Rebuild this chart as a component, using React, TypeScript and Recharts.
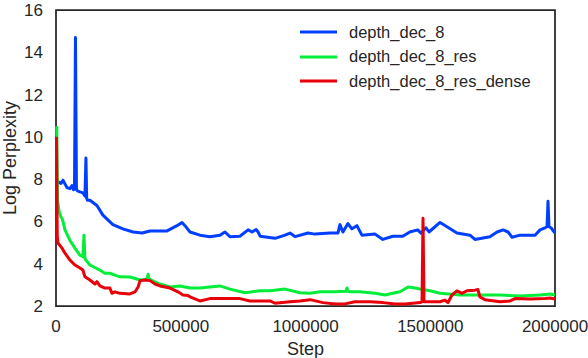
import React from "react";
import { LineChart, Line, XAxis, YAxis, ReferenceArea, Legend } from "recharts";

const seriesNames = ["depth_dec_8", "depth_dec_8_res", "depth_dec_8_res_dense"];
const seriesColors = ["#003FFF", "#03ED3A", "#E8000B"];

const xTicks = [0, 500000, 1000000, 1500000, 2000000];
const yTicks = [2, 4, 6, 8, 10, 12, 14, 16];

const blueSteps = [5000, 20000, 28000, 44000, 56000, 64000, 70000, 74000, 78000, 82000, 86000, 96000, 108000, 116000, 120000, 123000, 126000, 136000, 164000, 188000, 228000, 268000, 309000, 345000, 377000, 445000, 485000, 505000, 517000, 537000, 577000, 617000, 657000, 677000, 697000, 737000, 770000, 786000, 802000, 810000, 818000, 878000, 918000, 938000, 958000, 1010000, 1038000, 1098000, 1130000, 1138000, 1150000, 1170000, 1186000, 1206000, 1226000, 1278000, 1310000, 1350000, 1390000, 1418000, 1450000, 1463000, 1483000, 1495000, 1539000, 1567000, 1607000, 1659000, 1679000, 1739000, 1768000, 1792000, 1812000, 1828000, 1860000, 1920000, 1940000, 1960000, 1968000, 1972000, 1976000, 1984000, 2000000];
const blueValues = [7.9, 7.8, 7.95, 7.6, 7.55, 7.7, 7.5, 7.55, 14.7, 7.5, 7.45, 7.4, 7.35, 7.2, 9.0, 7.1, 7.0, 7.0, 6.75, 6.3, 5.85, 5.65, 5.5, 5.45, 5.55, 5.55, 5.8, 5.95, 5.8, 5.5, 5.35, 5.28, 5.35, 5.5, 5.28, 5.3, 5.6, 5.5, 5.62, 5.5, 5.3, 5.2, 5.35, 5.45, 5.28, 5.45, 5.4, 5.45, 5.45, 5.85, 5.5, 5.9, 5.65, 5.8, 5.35, 5.4, 5.15, 5.3, 5.3, 5.5, 5.6, 5.45, 5.7, 5.5, 5.95, 5.75, 5.45, 5.35, 5.15, 5.28, 5.5, 5.6, 5.5, 5.25, 5.35, 5.35, 5.6, 5.7, 5.75, 6.95, 5.75, 5.7, 5.45];

const greenSteps = [3000, 6000, 12000, 20000, 24000, 28000, 36000, 56000, 76000, 96000, 108000, 112000, 116000, 120000, 136000, 176000, 196000, 216000, 236000, 257000, 297000, 337000, 357000, 365000, 369000, 373000, 385000, 417000, 457000, 497000, 537000, 577000, 617000, 657000, 697000, 758000, 818000, 858000, 918000, 978000, 1018000, 1058000, 1118000, 1162000, 1166000, 1170000, 1178000, 1218000, 1279000, 1319000, 1359000, 1379000, 1411000, 1439000, 1459000, 1499000, 1539000, 1619000, 1699000, 1780000, 1860000, 1940000, 1980000, 2000000];
const greenValues = [10.5, 7.0, 6.5, 6.2, 6.15, 6.0, 5.6, 5.1, 4.74, 4.4, 4.33, 5.35, 4.25, 4.17, 3.94, 3.7, 3.55, 3.55, 3.46, 3.38, 3.37, 3.23, 3.25, 3.3, 3.5, 3.3, 3.2, 3.04, 2.9, 2.95, 2.85, 2.85, 2.9, 2.95, 2.8, 2.63, 2.72, 2.72, 2.8, 2.63, 2.6, 2.67, 2.67, 2.7, 2.85, 2.7, 2.67, 2.67, 2.6, 2.52, 2.63, 2.67, 2.9, 2.85, 2.8, 2.72, 2.6, 2.52, 2.52, 2.52, 2.47, 2.52, 2.57, 2.52];

const redSteps = [2000, 5000, 8000, 24000, 36000, 56000, 76000, 96000, 108000, 116000, 136000, 156000, 164000, 176000, 196000, 216000, 224000, 236000, 256000, 296000, 317000, 329000, 337000, 357000, 377000, 397000, 417000, 457000, 489000, 509000, 529000, 537000, 577000, 617000, 677000, 737000, 777000, 858000, 878000, 938000, 978000, 1018000, 1070000, 1118000, 1158000, 1198000, 1259000, 1311000, 1359000, 1399000, 1459000, 1467000, 1471000, 1475000, 1483000, 1539000, 1559000, 1571000, 1587000, 1607000, 1627000, 1647000, 1679000, 1691000, 1699000, 1719000, 1780000, 1820000, 1840000, 1900000, 1960000, 1980000, 2000000];
const redValues = [10.0, 5.3, 4.98, 4.74, 4.5, 4.17, 3.94, 3.8, 3.7, 3.38, 3.23, 3.04, 3.15, 2.95, 2.85, 2.85, 2.6, 2.67, 2.6, 2.57, 2.67, 2.9, 3.2, 3.23, 3.2, 3.04, 2.95, 2.85, 2.67, 2.52, 2.5, 2.43, 2.24, 2.35, 2.35, 2.35, 2.24, 2.24, 2.13, 2.2, 2.24, 2.3, 2.16, 2.1, 2.1, 2.2, 2.2, 2.16, 2.1, 2.1, 2.16, 2.2, 6.15, 2.2, 2.2, 2.2, 2.28, 2.16, 2.52, 2.72, 2.6, 2.72, 2.75, 2.78, 2.43, 2.3, 2.2, 2.24, 2.35, 2.33, 2.35, 2.38, 2.33];

const toRows = (steps: number[], values: number[]) =>
  steps.map((s, i) => ({ step: s, value: values[i] }));

const seriesData = [
  toRows(blueSteps, blueValues),
  toRows(greenSteps, greenValues),
  toRows(redSteps, redValues),
];

const FONT = "'Liberation Sans', Arial, sans-serif";
const TEXT = "#262626";

const renderLegend = () => (
  <div style={{ fontFamily: FONT, fontSize: 16.5, color: TEXT }}>
    {seriesNames.map((n, i) => (
      <div key={n} style={{ display: "flex", alignItems: "center", height: 24.5 }}>
        <svg width={37} height={6} style={{ marginRight: 12 }}>
          <line x1={0} y1={3} x2={37} y2={3} stroke={seriesColors[i]} strokeWidth={3} />
        </svg>
        <span>{n}</span>
      </div>
    ))}
  </div>
);

export default function App() {
  return (
    <div style={{ position: "absolute", left: 0, top: 0, background: "#fff" }}>
      <LineChart width={588} height={358} margin={{ top: 10, right: 33, bottom: 0, left: 0 }}>
        <XAxis
          dataKey="step"
          type="number"
          domain={[0, 2000000]}
          ticks={xTicks}
          axisLine={false}
          tickLine={false}
          tickMargin={8}
          height={52}
          tick={{ fill: TEXT, fontSize: 17, fontFamily: FONT }}
          label={{ value: "Step", position: "insideBottom", offset: 3, fill: TEXT, fontSize: 18, fontFamily: FONT }}
          allowDuplicatedCategory={false}
        />
        <YAxis
          type="number"
          domain={[2, 16]}
          ticks={yTicks}
          axisLine={false}
          tickLine={false}
          tickMargin={7}
          width={56}
          tick={{ fill: TEXT, fontSize: 17, fontFamily: FONT }}
          label={{
            value: "Log Perplexity",
            angle: -90,
            position: "insideLeft",
            offset: 9.5,
            fill: TEXT,
            fontSize: 18,
            fontFamily: FONT,
            style: { textAnchor: "middle" },
          }}
        />
        {seriesData.map((d, i) => (
          <Line
            key={seriesNames[i]}
            data={d}
            dataKey="value"
            name={seriesNames[i]}
            type="linear"
            stroke={seriesColors[i]}
            strokeWidth={3}
            dot={false}
            isAnimationActive={false}
            strokeLinejoin="round"
          />
        ))}
        <ReferenceArea
          x1={0}
          x2={2000000}
          y1={2}
          y2={16}
          fill="none"
          fillOpacity={0}
          stroke="#262626"
          strokeWidth={1.75}
          strokeOpacity={1}
          ifOverflow="visible"
        />
        <Legend
          layout="vertical"
          verticalAlign="middle"
          align="center"
          content={renderLegend}
          wrapperStyle={{ top: 20, left: 300, width: 260, height: 75 }}
        />
      </LineChart>
    </div>
  );
}
